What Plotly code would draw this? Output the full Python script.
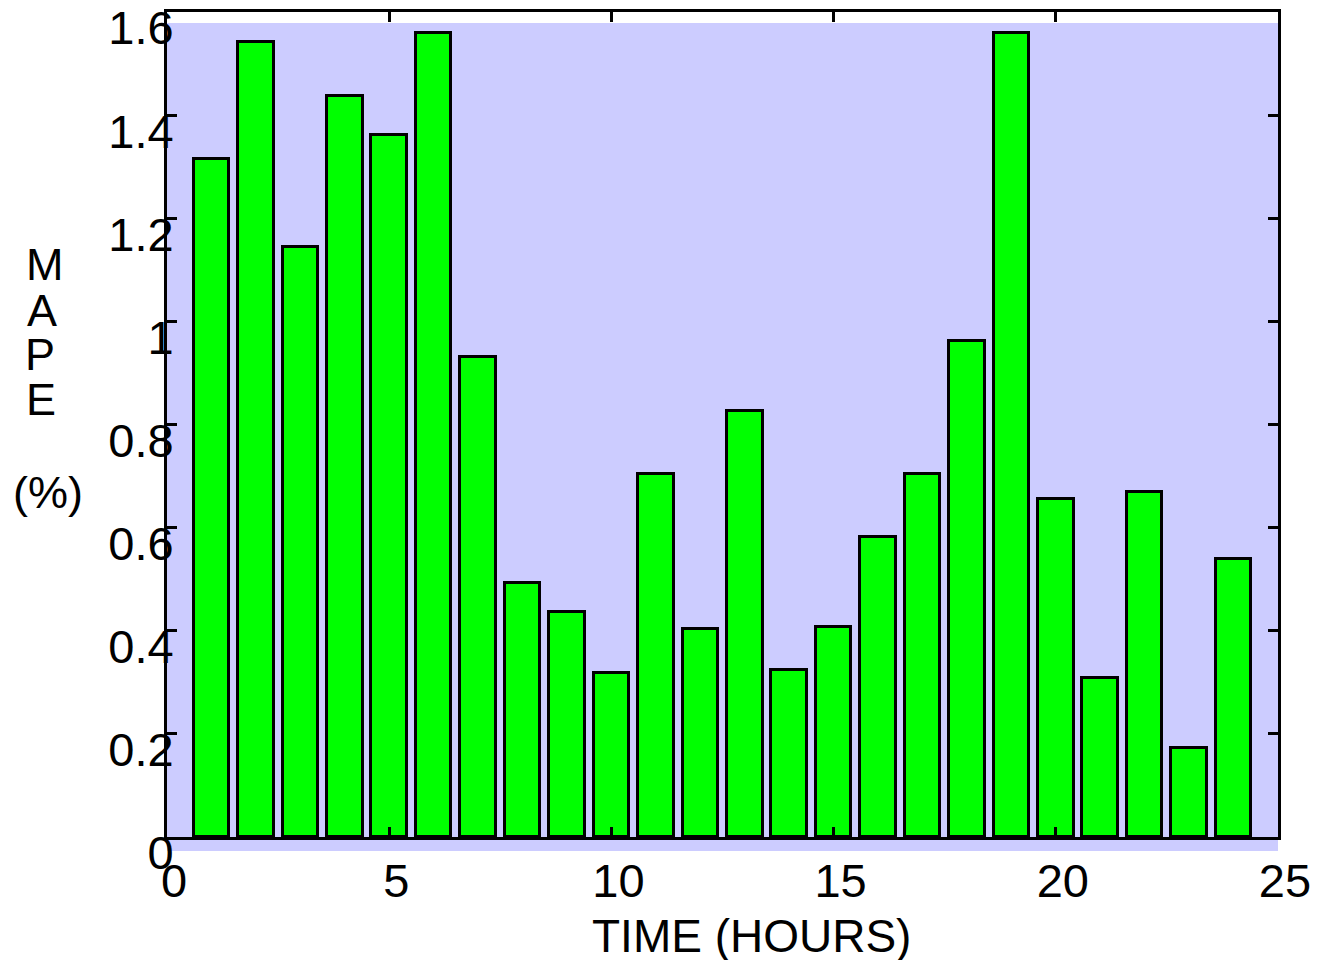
import plotly.graph_objects as go

hours = list(range(1, 25))
mape = [1.315, 1.541, 1.145, 1.437, 1.362, 1.559, 0.930, 0.492, 0.437, 0.319,
        0.704, 0.403, 0.827, 0.324, 0.408, 0.582, 0.704, 0.962, 1.560, 0.656,
        0.308, 0.670, 0.173, 0.539]

x_ticks = [0, 5, 10, 15, 20, 25]
y_ticks = [0, 0.2, 0.4, 0.6, 0.8, 1.0, 1.2, 1.4, 1.6]
y_tick_text = ["0", "0.2", "0.4", "0.6", "0.8", "1", "1.2", "1.4", "1.6"]
x_title = "TIME (HOURS)"
y_title_lines = ["M", "A", "P", "E", "(%)"]

W, H = 1319, 960
L, R, T, B = 167, 41, 12, 123
pw, ph = W - L - R, H - T - B

def px_x(p):
    return (p - L) / pw

def px_y(p):
    return (H - B - p) / ph

FONT = "Liberation Sans, Arial, Helvetica, sans-serif"

fig = go.Figure()
fig.add_trace(go.Bar(
    x=hours, y=mape, width=0.8,
    marker=dict(color="#00FF00", line=dict(color="black", width=3)),
))

# lavender axes background (slightly offset as in reference)
fig.add_shape(type="rect", xref="paper", yref="paper",
              x0=0, x1=1, y0=px_y(851), y1=px_y(23),
              fillcolor="#CCCCFF", line=dict(width=0), layer="below")

annotations = [dict(text=x_title, xref="paper", yref="paper",
                    x=px_x(751), y=px_y(936), xanchor="center", yanchor="middle",
                    showarrow=False, font=dict(family=FONT, size=46, color="black"))]
ylab_pos = [(45, 264), (42, 310), (40, 354), (41, 399), (48, 492)]
for txt, (px, py) in zip(y_title_lines, ylab_pos):
    annotations.append(dict(text=txt, xref="paper", yref="paper",
                            x=px_x(px), y=px_y(py), xanchor="center", yanchor="middle",
                            showarrow=False, font=dict(family=FONT, size=45, color="black")))

fig.update_layout(
    width=W, height=H,
    margin=dict(l=L, r=R, t=T, b=B, autoexpand=False),
    paper_bgcolor="white", plot_bgcolor="rgba(0,0,0,0)",
    showlegend=False,
    font=dict(family=FONT, size=47, color="black"),
    annotations=annotations,
    bargap=0,
)
fig.update_xaxes(range=[0, 25], tickvals=x_ticks, ticks="inside", ticklen=10, tickwidth=2.5,
                 tickcolor="black", showline=True, linecolor="black", linewidth=3,
                 mirror="ticks", showgrid=False, zeroline=False, automargin=False,
                 ticklabelshift=7, ticklabelstandoff=1)
fig.update_yaxes(range=[0, 1.6], tickvals=y_ticks, ticktext=y_tick_text, ticks="inside",
                 ticklen=10, tickwidth=2.5, tickcolor="black", showline=True,
                 linecolor="black", linewidth=3, mirror="ticks", showgrid=False,
                 zeroline=False, automargin=False, ticklabelshift=16, ticklabelstandoff=-19)

fig.write_html("out.html")
